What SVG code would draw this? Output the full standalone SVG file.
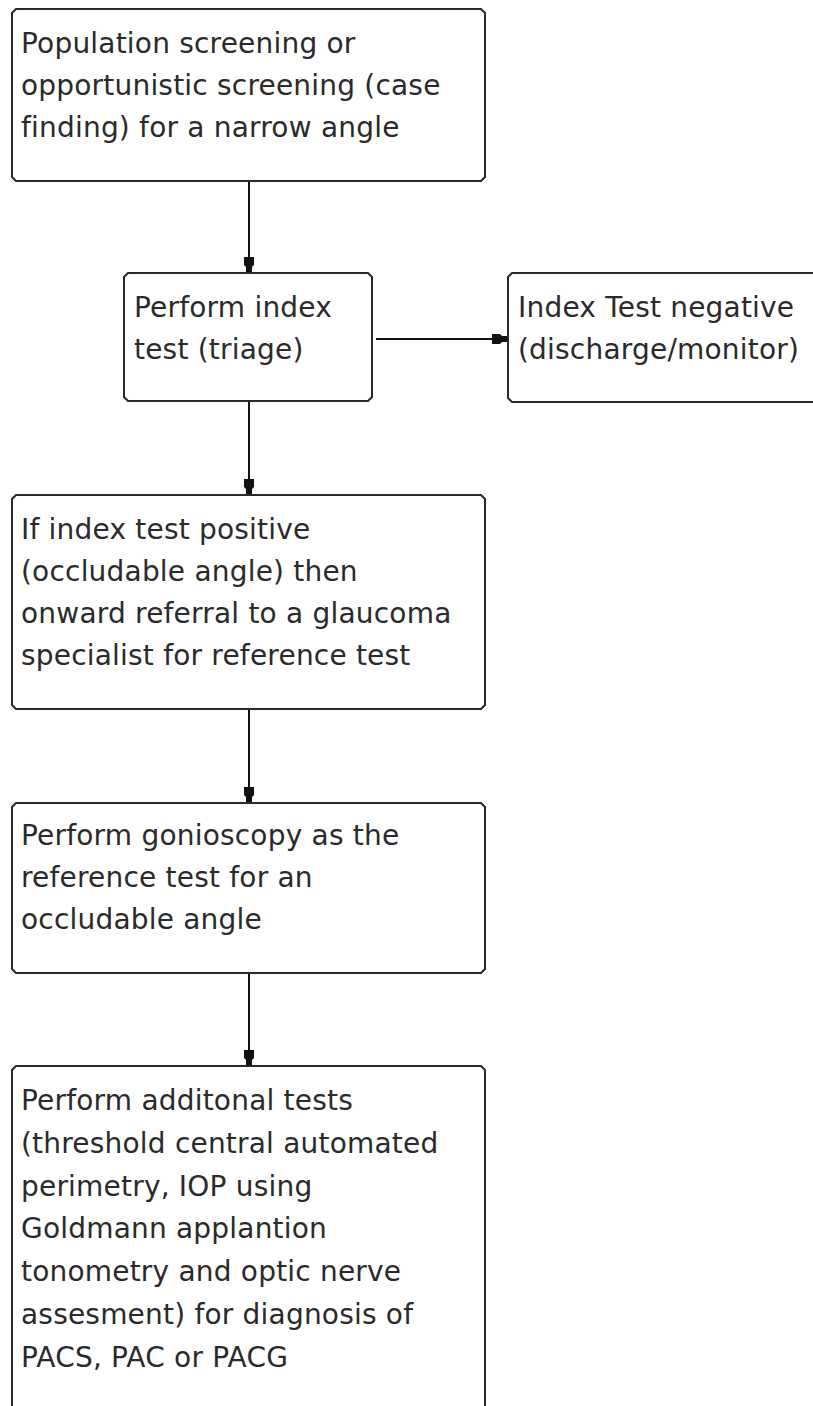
<svg xmlns="http://www.w3.org/2000/svg" width="813" height="1406" viewBox="0 0 813 1406">
<style>
.box{fill:#fff;stroke:#2a2a2a;stroke-width:2}
.t{font-family:"DejaVu Sans",sans-serif;font-size:28px;letter-spacing:0.2px;fill:#2a2a2a}
.c{stroke:#111;stroke-width:2;fill:none}
</style>
<defs>
<marker id="ah" markerUnits="userSpaceOnUse" markerWidth="20" markerHeight="12" viewBox="-17 -6 18 12" refX="0" refY="0" orient="auto">
<path d="M-16,-5 L-8,-5 L-6,-3 L0,-3 L0,3 L-6,3 L-8,5 L-16,5 Z" fill="#111"/>
</marker>
</defs>
<rect width="813" height="1406" fill="#fff"/>
<g id="connectors">
<line class="c" x1="249" y1="182" x2="249" y2="273" marker-end="url(#ah)"/>
<line class="c" x1="249" y1="401" x2="249" y2="495" marker-end="url(#ah)"/>
<line class="c" x1="249" y1="709" x2="249" y2="803" marker-end="url(#ah)"/>
<line class="c" x1="249" y1="973" x2="249" y2="1066" marker-end="url(#ah)"/>
<line class="c" x1="376" y1="339" x2="508" y2="339" marker-end="url(#ah)"/>
</g>
<g id="n1">
<path class="box" d="M16,9 H481 L485,13 V177 L481,181 H16 L12,177 V13 Z"/>
<text class="t"><tspan x="21" y="53">Population screening or</tspan><tspan x="21" y="95">opportunistic screening (case</tspan><tspan x="21" y="137">finding) for a narrow angle</tspan></text>
</g>
<g id="n2">
<path class="box" d="M128,273 H368 L372,277 V397 L368,401 H128 L124,397 V277 Z"/>
<text class="t"><tspan x="134" y="317">Perform index</tspan><tspan x="134" y="359">test (triage)</tspan></text>
</g>
<g id="n3">
<path class="box" d="M512,273 H830 V402 H512 L508,398 V277 Z"/>
<text class="t"><tspan x="518" y="317">Index Test negative</tspan><tspan x="518" y="359">(discharge/monitor)</tspan></text>
</g>
<g id="n4">
<path class="box" d="M16,495 H481 L485,499 V705 L481,709 H16 L12,705 V499 Z"/>
<text class="t"><tspan x="21" y="539">If index test positive</tspan><tspan x="21" y="581">(occludable angle) then</tspan><tspan x="21" y="623">onward referral to a glaucoma</tspan><tspan x="21" y="665">specialist for reference test</tspan></text>
</g>
<g id="n5">
<path class="box" d="M16,803 H481 L485,807 V969 L481,973 H16 L12,969 V807 Z"/>
<text class="t"><tspan x="21" y="845">Perform gonioscopy as the</tspan><tspan x="21" y="887">reference test for an</tspan><tspan x="21" y="929">occludable angle</tspan></text>
</g>
<g id="n6">
<path class="box" d="M16,1066 H481 L485,1070 V1420 H12 V1070 Z"/>
<text class="t"><tspan x="21" y="1110">Perform additonal tests</tspan><tspan x="21" y="1153">(threshold central automated</tspan><tspan x="21" y="1196">perimetry, IOP using</tspan><tspan x="21" y="1238">Goldmann applantion</tspan><tspan x="21" y="1281">tonometry and optic nerve</tspan><tspan x="21" y="1324">assesment) for diagnosis of</tspan><tspan x="21" y="1367">PACS, PAC or PACG</tspan></text>
</g>
</svg>
